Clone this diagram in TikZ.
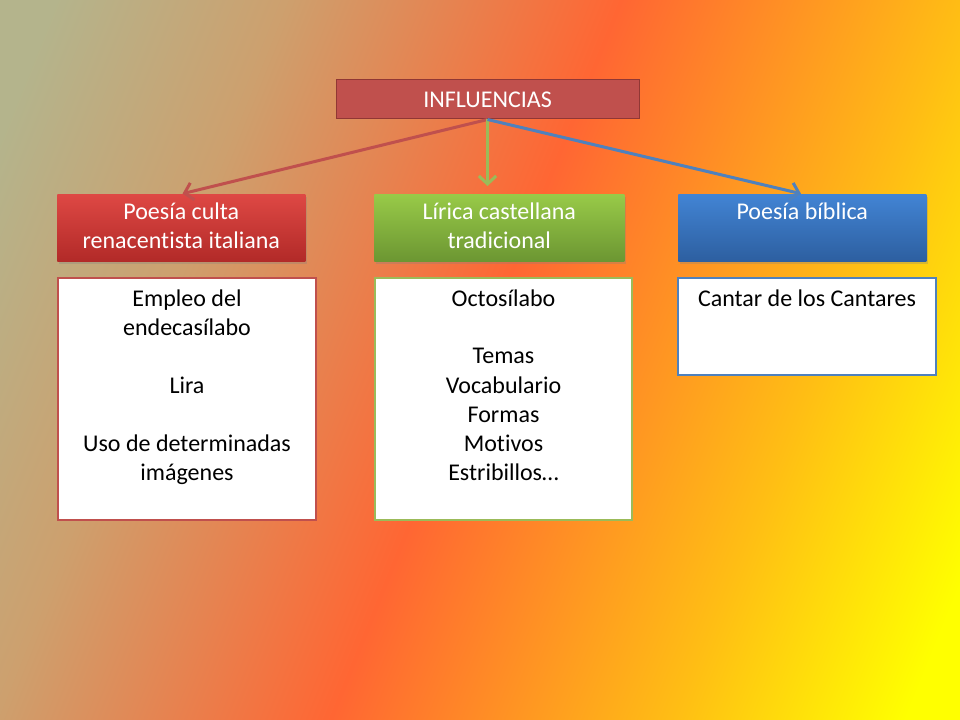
\documentclass[tikz,border=0pt]{standalone}
\usepackage{fontspec}
\setmainfont[Ligatures=NoCommon]{Carlito}
\usetikzlibrary{arrows.meta,shadows}

\definecolor{fondoA}{RGB}{180,180,140}
\definecolor{fondoB}{RGB}{205,160,110}
\definecolor{fondoC}{RGB}{255,102,51}
\definecolor{fondoD}{RGB}{255,190,20}
\definecolor{fondoE}{RGB}{255,255,0}
\definecolor{rojo}{RGB}{192,80,77}
\definecolor{rojooscuro}{RGB}{145,55,52}
\definecolor{rojoA}{RGB}{222,72,68}
\definecolor{rojoB}{RGB}{178,42,40}
\definecolor{verde}{RGB}{155,187,89}
\definecolor{verdeA}{RGB}{152,202,72}
\definecolor{verdeB}{RGB}{108,150,50}
\definecolor{azul}{RGB}{79,129,189}
\definecolor{azulA}{RGB}{66,132,212}
\definecolor{azulB}{RGB}{45,95,160}

\pgfdeclarehorizontalshading{fondo}{100bp}{color(0bp)=(fondoA); color(20.3bp)=(fondoA); color(32.3bp)=(fondoB); color(49.8bp)=(fondoC); color(67.7bp)=(fondoD); color(79.7bp)=(fondoE); color(100bp)=(fondoE)}

\newcommand{\celda}[4]{\parbox[t][#1][t]{#2}{\centering\rule{0pt}{#3}#4}}

\begin{document}
\begin{tikzpicture}[x=0.75pt,y=-0.75pt,
    font=\fontsize{18pt}{21.75pt}\selectfont,
    titulo/.style={draw=rojooscuro, fill=rojo, text=white, line width=0.75pt, minimum width=227.25pt, minimum height=29.25pt, inner sep=0pt},
    cabecera/.style={anchor=north west, inner sep=0pt, text=white, drop shadow={shadow xshift=1.5pt, shadow yshift=-2.25pt, opacity=0.3}},
    contenido/.style={anchor=north west, inner sep=0pt, fill=white, draw=#1, line width=1.5pt},
    flecha/.style={draw=#1, line width=2.25pt, -{Straight Barb[length=6pt, width=13pt]}}]

    \shade[shading=fondo, shading angle=-22] (0,0) rectangle (960,720);

    \node[titulo] (influencias) at (487.5,99.5) {INFLUENCIAS};

    \node[cabecera, top color=rojoA, bottom color=rojoB] (poesia) at (57,194) {\celda{50.25pt}{186pt}{19.1pt}{Poesía culta\\renacentista italiana}};
    \node[cabecera, top color=verdeA, bottom color=verdeB] (lirica) at (374,194) {\celda{50.25pt}{187.5pt}{19.1pt}{Lírica castellana\\tradicional}};
    \node[cabecera, top color=azulA, bottom color=azulB] (biblica) at (678,194) {\celda{50.25pt}{186pt}{19.1pt}{Poesía bíblica}};

    \node[contenido=rojo] (italiana) at (57,277) {\celda{181.5pt}{193.5pt}{21pt}{Empleo del\\endecasílabo\\[21.75pt]Lira\\[21.75pt]Uso de determinadas\\imágenes}};
    \node[contenido=verde] (castellana) at (374,277) {\celda{181.5pt}{192.75pt}{21pt}{Octosílabo\\[21.75pt]Temas\\Vocabulario\\Formas\\Motivos\\Estribillos…}};
    \node[contenido=azul] (cantar) at (677,277) {\celda{72.75pt}{193.5pt}{21pt}{Cantar de los Cantares}};

    \draw[flecha=rojo, shorten >=1pt] (influencias.south) -- (poesia.north);
    \draw[flecha=verde, shorten >=6pt] (influencias.south) -- (influencias.south |- lirica.north);
    \draw[flecha=azul, shorten >=1pt] (influencias.south) -- (biblica.north);
\end{tikzpicture}
\end{document}
